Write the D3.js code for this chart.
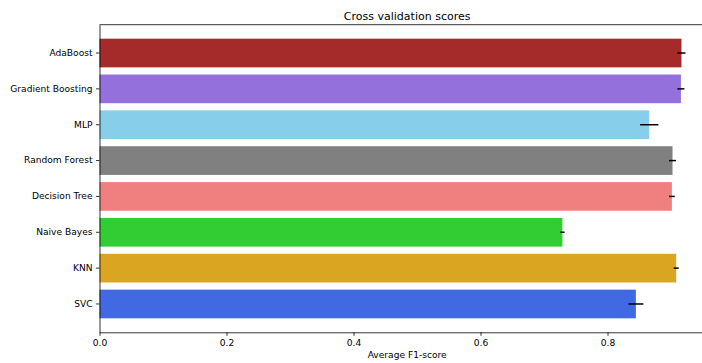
<!DOCTYPE html>
<html>
<head>
<meta charset="utf-8">
<script src="https://cdn.jsdelivr.net/npm/d3@7"></script>
<style>
  html, body { margin: 0; padding: 0; background: #fff; }
  svg { display: block; font-family: "DejaVu Sans", sans-serif; }
</style>
</head>
<body>
<svg id="chart" width="702" height="363"></svg>
<script>
// Cross-validated mean F1-score per classifier, with its spread
const models = ["AdaBoost", "Gradient Boosting", "MLP", "Random Forest",
                "Decision Tree", "Naive Bayes", "KNN", "SVC"];
const meanF1 = [0.9165, 0.9156, 0.8657, 0.9024, 0.9014, 0.729, 0.9082, 0.8447];
const stdF1  = [0.0063, 0.0055, 0.0144, 0.0055, 0.0045, 0.0035, 0.004, 0.0118];
const barColors = ["#a52a2a", "#9370db", "#87ceeb", "#808080",
                   "#f08080", "#32cd32", "#daa520", "#4169e1"];
const xTicks = [0.0, 0.2, 0.4, 0.6, 0.8];

const svg = d3.select("#chart");
const margin = { left: 99.5, top: 24.7, bottom: 332.3 };
const xMax = 0.969;
const tickFont = 9.1;

const x = d3.scaleLinear().domain([0, xMax]).range([margin.left, margin.left + 635 * xMax]);
const y = d3.scaleBand().domain(models)
  .range([margin.top, margin.bottom])
  .paddingInner(0.2).paddingOuter(0.39);

const data = models.map((m, i) => ({ name: m, v: meanF1[i], e: stdF1[i], c: barColors[i] }));

// bars
svg.append("g").selectAll("rect").data(data).join("rect")
  .attr("x", x(0))
  .attr("y", d => y(d.name))
  .attr("width", d => x(d.v) - x(0))
  .attr("height", y.bandwidth())
  .attr("fill", d => d.c);

// error bars
svg.append("g").selectAll("line").data(data).join("line")
  .attr("x1", d => x(d.v - d.e))
  .attr("x2", d => x(d.v + d.e))
  .attr("y1", d => y(d.name) + y.bandwidth() / 2)
  .attr("y2", d => y(d.name) + y.bandwidth() / 2)
  .attr("stroke", "#000")
  .attr("stroke-width", 1.5);

// x axis
const xAxis = svg.append("g")
  .attr("transform", `translate(0,${margin.bottom})`)
  .call(d3.axisBottom(x).tickValues(xTicks).tickFormat(d3.format(".1f"))
        .tickSize(3.5).tickPadding(3.5).tickSizeOuter(0));
xAxis.select(".domain").attr("stroke", "#000").attr("stroke-width", 0.8);
xAxis.selectAll(".tick line").attr("stroke", "#000").attr("stroke-width", 0.8);
xAxis.selectAll("text").attr("font-size", tickFont).attr("fill", "#000")
  .attr("font-family", "DejaVu Sans");

// y axis
const yAxis = svg.append("g")
  .attr("transform", `translate(${margin.left},0)`)
  .call(d3.axisLeft(y).tickSize(3.5).tickPadding(3.5).tickSizeOuter(0));
yAxis.select(".domain").attr("stroke", "#000").attr("stroke-width", 0.8);
yAxis.selectAll(".tick line").attr("stroke", "#000").attr("stroke-width", 0.8);
yAxis.selectAll("text").attr("font-size", tickFont).attr("fill", "#000")
  .attr("font-family", "DejaVu Sans");

// top and right spines
svg.append("line")
  .attr("x1", x(0)).attr("x2", x(xMax))
  .attr("y1", margin.top).attr("y2", margin.top)
  .attr("stroke", "#000").attr("stroke-width", 0.8);
svg.append("line")
  .attr("x1", x(xMax)).attr("x2", x(xMax))
  .attr("y1", margin.top).attr("y2", margin.bottom)
  .attr("stroke", "#000").attr("stroke-width", 0.8);

// title and axis label
const cx = (x(0) + x(xMax)) / 2;
svg.append("text")
  .attr("x", cx).attr("y", 20)
  .attr("text-anchor", "middle")
  .attr("font-size", 11)
  .text("Cross validation scores");
svg.append("text")
  .attr("x", cx).attr("y", 357.5)
  .attr("text-anchor", "middle")
  .attr("font-size", tickFont)
  .text("Average F1-score");
</script>
</body>
</html>
